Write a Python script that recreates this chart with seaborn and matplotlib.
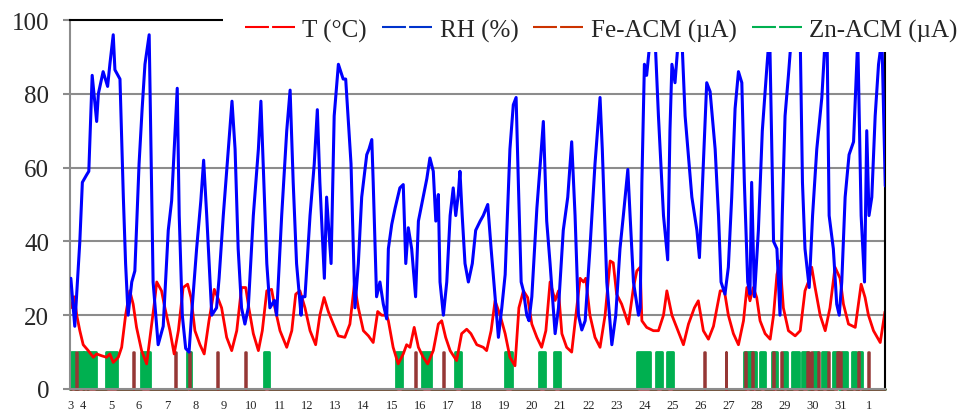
import seaborn as sns
import matplotlib.pyplot as plt
from matplotlib.lines import Line2D
from matplotlib.patches import Rectangle

# time in days of the month (32 = 1st of the following month)
rh_day = [3.57, 3.71, 3.89, 3.98, 4.13, 4.21, 4.33, 4.49, 4.55, 4.72, 4.88, 4.96, 5.08, 5.14, 5.32,
          5.44, 5.52, 5.61, 5.74, 5.85, 6.00, 6.11, 6.21, 6.36, 6.42, 6.50, 6.68, 6.86, 7.04, 7.16,
          7.36, 7.43, 7.54, 7.66, 7.78, 7.87, 8.05, 8.20, 8.30, 8.41, 8.59, 8.76, 8.85, 9.00, 9.18,
          9.31, 9.42, 9.53, 9.65, 9.77, 9.89, 10.07, 10.25, 10.34, 10.42, 10.55, 10.66, 10.82, 10.90,
          11.08, 11.26, 11.38, 11.49, 11.61, 11.77, 11.81, 11.91, 12.09, 12.24, 12.35, 12.44, 12.60,
          12.68, 12.84, 12.95, 13.10, 13.27, 13.36, 13.55, 13.69, 13.81, 13.93, 14.11, 14.19, 14.29,
          14.34, 14.46, 14.58, 14.70, 14.82, 14.88, 15.00, 15.12, 15.29, 15.41, 15.50, 15.59, 15.71,
          15.85, 15.95, 16.12, 16.25, 16.36, 16.48, 16.57, 16.66, 16.72, 16.84, 16.96, 17.08, 17.19,
          17.28, 17.37, 17.43, 17.51, 17.61, 17.73, 17.87, 17.99, 18.15, 18.26, 18.42, 18.54, 18.68,
          18.80, 18.92, 19.04, 19.21, 19.33, 19.43, 19.51, 19.61, 19.69, 19.81, 19.89, 19.99, 20.17,
          20.29, 20.40, 20.52, 20.64, 20.82, 20.94, 21.11, 21.27, 21.41, 21.53, 21.65, 21.77, 21.89,
          22.06, 22.24, 22.42, 22.50, 22.66, 22.84, 22.98, 23.13, 23.25, 23.41, 23.49, 23.61, 23.79,
          23.85, 23.91, 24.00, 24.08, 24.17, 24.27, 24.38, 24.50, 24.68, 24.83, 24.91, 24.98, 25.09,
          25.21, 25.33, 25.45, 25.69, 25.87, 25.96, 26.10, 26.22, 26.34, 26.52, 26.64, 26.73, 26.87,
          26.99, 27.11, 27.23, 27.35, 27.47, 27.56, 27.68, 27.76, 27.82, 27.92, 28.06, 28.20, 28.36,
          28.46, 28.60, 28.72, 28.83, 28.91, 29.01, 29.13, 29.25, 29.40, 29.55, 29.63, 29.72, 29.87,
          29.99, 30.14, 30.32, 30.44, 30.51, 30.58, 30.73, 30.85, 30.94, 31.03, 31.15, 31.29, 31.45,
          31.60, 31.72, 31.84, 31.92, 32.00, 32.10, 32.22, 32.34, 32.46, 32.58]
rh_val = [30, 17, 40, 56, 58, 59, 85, 72.5, 80, 86, 82, 88, 96, 86.5, 84,
          52, 34, 20, 29, 32, 61, 76, 88, 96, 67, 29, 12, 17, 43, 51,
          81.5, 47, 20, 11, 10, 20, 38, 51, 62, 47, 20, 22, 30, 47, 65,
          78, 65, 38, 22, 17.6, 22, 47, 65, 78, 61, 34, 22, 24, 20,
          47, 70, 81, 56, 34, 20, 25, 25, 47, 61, 75.7, 56, 30,
          52, 34, 74, 88, 84, 84, 61, 22, 34, 52, 63.5, 65, 67.6,
          56, 25, 29, 23, 19, 38, 44.6, 49, 54.5, 55.4, 34, 43.7, 38,
          25, 45.5, 52, 57, 62.6, 59, 45.5, 52.7, 29, 20, 29, 47, 54.5,
          47, 52.7, 59, 47, 34, 29, 34, 43, 45.5, 47, 50, 38, 25,
          14, 22, 31, 65, 77, 79, 56, 29, 26.6, 20, 18.5, 25, 49,
          61, 72.5, 45.5, 34, 15, 22, 43, 52, 67, 47, 20, 16, 18.5,
          38, 61, 79, 65, 29, 12, 20, 38, 47, 59.5, 47, 29, 20,
          22, 56, 88, 85, 92, 97, 95, 74, 47, 35, 70, 88, 83,
          95, 96, 74, 52, 43, 35.6, 61, 83, 80.6, 65, 47, 29, 25.7,
          33, 52, 76, 86, 83, 56, 29, 25.7, 56, 25, 43, 70, 87,
          97, 40, 38, 20, 47, 74, 85, 97, 99, 95, 56, 38, 27.5,
          47, 65, 79, 95, 93, 47, 38, 23, 20, 29, 52, 63.5, 67,
          95, 47, 29, 70, 47, 52, 74, 88, 95, 55]

t_day = [3.57, 3.69, 3.78, 3.89, 4.01, 4.19, 4.37, 4.49, 4.67, 4.84, 4.96, 5.08, 5.26, 5.38, 5.52,
         5.67, 5.79, 5.91, 6.09, 6.27, 6.42, 6.54, 6.63, 6.80, 6.92, 7.10, 7.25, 7.40, 7.57, 7.73,
         7.85, 7.99, 8.17, 8.32, 8.49, 8.68, 8.80, 8.94, 9.12, 9.30, 9.48, 9.65, 9.80, 9.91, 10.07,
         10.25, 10.39, 10.55, 10.72, 10.84, 11.02, 11.26, 11.44, 11.58, 11.73, 11.91, 12.09, 12.29,
         12.44, 12.59, 12.74, 12.92, 13.10, 13.33, 13.51, 13.67, 13.81, 13.99, 14.17, 14.34, 14.50,
         14.64, 14.82, 14.88, 15.05, 15.23, 15.41, 15.53, 15.65, 15.80, 15.95, 16.12, 16.28, 16.48,
         16.66, 16.78, 16.92, 17.08, 17.31, 17.49, 17.67, 17.82, 18.03, 18.26, 18.38, 18.54, 18.68,
         18.86, 19.04, 19.21, 19.39, 19.53, 19.69, 19.84, 19.99, 20.17, 20.34, 20.49, 20.64, 20.82,
         20.94, 21.06, 21.23, 21.41, 21.59, 21.71, 21.83, 21.91, 22.06, 22.24, 22.42, 22.60, 22.78,
         22.89, 23.01, 23.19, 23.43, 23.61, 23.73, 23.85, 23.91, 24.08, 24.32, 24.50, 24.68, 24.80,
         24.98, 25.15, 25.39, 25.57, 25.78, 25.92, 26.10, 26.28, 26.46, 26.70, 26.85, 26.99, 27.17,
         27.35, 27.53, 27.65, 27.76, 27.88, 28.00, 28.12, 28.30, 28.48, 28.60, 28.72, 28.83, 28.95,
         29.13, 29.37, 29.55, 29.72, 29.84, 29.96, 30.08, 30.26, 30.44, 30.61, 30.79, 30.97, 31.09,
         31.27, 31.51, 31.72, 31.86, 31.98, 32.16, 32.40, 32.57]
t_val = [22, 25, 20, 15.8, 12, 10.4, 8.6, 9.5, 9, 8.6, 9.5, 7.2, 8.6, 11.3, 20,
         26.6, 23, 16.7, 10.4, 6.8, 15.8, 23, 29, 26.6, 22, 15.8, 9.5, 15.8, 27.5, 28.4,
         24.8, 15.8, 12, 9.5, 18.5, 27, 24.8, 22, 14, 10.4, 15.8, 27.5, 27.5, 22, 15,
         10.4, 15.8, 26.6, 27, 22, 15.8, 11.3, 15.8, 25.7, 26.6, 22, 15.8, 12,
         20, 24.8, 21, 17.6, 14.4, 14, 17.6, 28.4, 22, 15.8, 14.4, 12.6, 21,
         20, 20, 18.5, 11.3, 6.8, 9.5, 12, 11.3, 16.7, 11.3, 8.6, 6.8, 10.4,
         17.6, 18.5, 14, 10.4, 7.7, 15, 16.2, 15, 12, 11.3, 10.4, 15.8, 23.9,
         20, 15, 8.6, 6.3, 22, 26.6, 24.8, 17.6, 14, 11.3, 15.8, 29, 24,
         26.6, 15, 11.3, 10, 22, 30, 29, 30, 20, 14, 11.3, 20, 34.7,
         34.2, 25.7, 23, 17.6, 27.5, 32, 33, 18.5, 16.7, 15.8, 15.8, 20, 26.6,
         20, 16.7, 12, 17.6, 22, 23.9, 15.8, 13.5, 17, 26.6, 26.6, 20, 15,
         12, 18.5, 27.5, 23.9, 27.5, 24.8, 18.5, 15, 13.5, 20, 31, 34.7, 22,
         15.8, 14.4, 15.8, 26.6, 29, 33, 27.5, 20, 15.8, 22, 33, 30, 23,
         17.6, 16.7, 28.4, 24.8, 20, 15.8, 12.6, 21]

# periods where the ACM sensors give a signal (start day, end day)
zn_on = [(3.57, 3.71), (3.83, 4.01), (4.05, 4.15), (4.18, 4.45), (4.81, 5.20), (6.07, 6.39),
         (7.70, 7.86), (10.46, 10.64), (15.15, 15.36), (16.07, 16.40), (17.25, 17.47),
         (19.04, 19.27), (20.25, 20.47), (20.79, 21.00), (23.73, 24.20), (24.41, 24.62),
         (24.82, 25.01), (27.56, 27.76), (27.80, 27.98), (28.10, 28.30), (28.54, 28.71),
         (28.92, 29.09), (29.27, 29.49), (29.61, 29.84), (30.02, 30.20), (30.32, 30.50),
         (30.70, 30.92), (31.03, 31.21), (31.39, 31.55), (31.60, 31.74)]
fe_on = [(3.77, 3.80), (5.78, 5.81), (7.27, 7.30), (7.77, 7.80), (8.78, 8.81), (9.79, 9.82),
         (15.82, 15.85), (16.83, 16.86), (26.13, 26.16), (26.89, 26.92), (27.60, 27.63),
         (27.84, 27.87), (28.59, 28.62), (28.88, 28.91), (29.78, 29.86), (29.93, 29.96),
         (30.19, 30.22), (30.53, 30.56), (30.85, 31.02), (31.61, 31.64), (31.97, 32.00)]
acm_level = 10

day_ticks = [3.54] + list(range(4, 33))
day_labels = [str(d) for d in range(3, 32)] + ['1']
x_start, x_end = 3.54, 32.57


def pulse_series(spans, level):
    xs, ys = [x_start], [0]
    for s, e in spans:
        xs += [s, s, e, e]
        ys += [0, level, level, 0]
    xs.append(x_end)
    ys.append(0)
    return xs, ys


sns.set_style("white")
plt.rcParams['font.family'] = ['Liberation Serif', 'DejaVu Serif']

fig = plt.figure(figsize=(9.74, 4.14), dpi=100)
ax = fig.add_axes([70 / 974, 1 - 390 / 414, 815 / 974, 369 / 414])

grid_c = '#8c8c8c'
for yv in [20, 40, 60, 80]:
    ax.axhline(yv, color=grid_c, lw=1.5, zorder=0)

zn_c, fe_c = '#00b050', '#953735'
zx, zy = pulse_series(zn_on, acm_level)
fx, fy = pulse_series(fe_on, acm_level)
ax.fill_between(zx, zy, color=zn_c, lw=0, zorder=1)
ax.plot(zx, zy, color=zn_c, lw=2, clip_on=False, zorder=1)
ax.fill_between(fx, fy, color=fe_c, lw=0, zorder=1.5)
ax.plot(fx, fy, color=fe_c, lw=1.8, clip_on=False, zorder=1.5)

sns.lineplot(x=t_day, y=t_val, sort=False, estimator=None, color='#ff0000', lw=2.0, ax=ax, zorder=2)
sns.lineplot(x=rh_day, y=rh_val, sort=False, estimator=None, color='#0000ff', lw=2.2, ax=ax, zorder=3)

ax.set_xlim(x_start, x_end)
ax.set_ylim(0, 100)
ax.set_yticks([0, 20, 40, 60, 80, 100])
ax.set_xticks(day_ticks)
ax.set_xticklabels(day_labels)
ax.set_xlabel('')
ax.set_ylabel('')
ax.tick_params(axis='y', labelsize=18, length=5, width=1.5, color=grid_c, pad=10, direction='out', left=True)
ax.tick_params(axis='x', labelsize=9, length=0, pad=7)

for side in ['left', 'bottom']:
    ax.spines[side].set_color(grid_c)
    ax.spines[side].set_linewidth(1.5)
for side in ['top', 'right']:
    ax.spines[side].set_color('black')
    ax.spines[side].set_linewidth(1.5)

# white legend area covering the upper right of the plot
fig.add_artist(Rectangle((223 / 974, 1 - 53 / 414), 1, 53 / 414, transform=fig.transFigure,
                         facecolor='white', edgecolor='none', zorder=4))

handles = [Line2D([], [], color='#ff0000', lw=1.5, dashes=(11.5, 1.5)),
           Line2D([], [], color='#0033cc', lw=1.5, dashes=(11.5, 1.5)),
           Line2D([], [], color='#cc3300', lw=1.5, dashes=(11.5, 1.5)),
           Line2D([], [], color='#00b050', lw=1.5, dashes=(11.5, 1.5))]
labels = ['T (°C)', 'RH (%)', 'Fe-ACM (µA)', 'Zn-ACM (µA)']
leg = fig.legend(handles, labels, loc='center left', bbox_to_anchor=(245 / 974, 1 - 31 / 414),
                 ncol=4, frameon=False, fontsize=18, handlelength=2.0, handletextpad=0.3,
                 columnspacing=0.6, borderpad=0, borderaxespad=0)
leg.set_zorder(5)

fig.savefig('out.png', dpi=100)
